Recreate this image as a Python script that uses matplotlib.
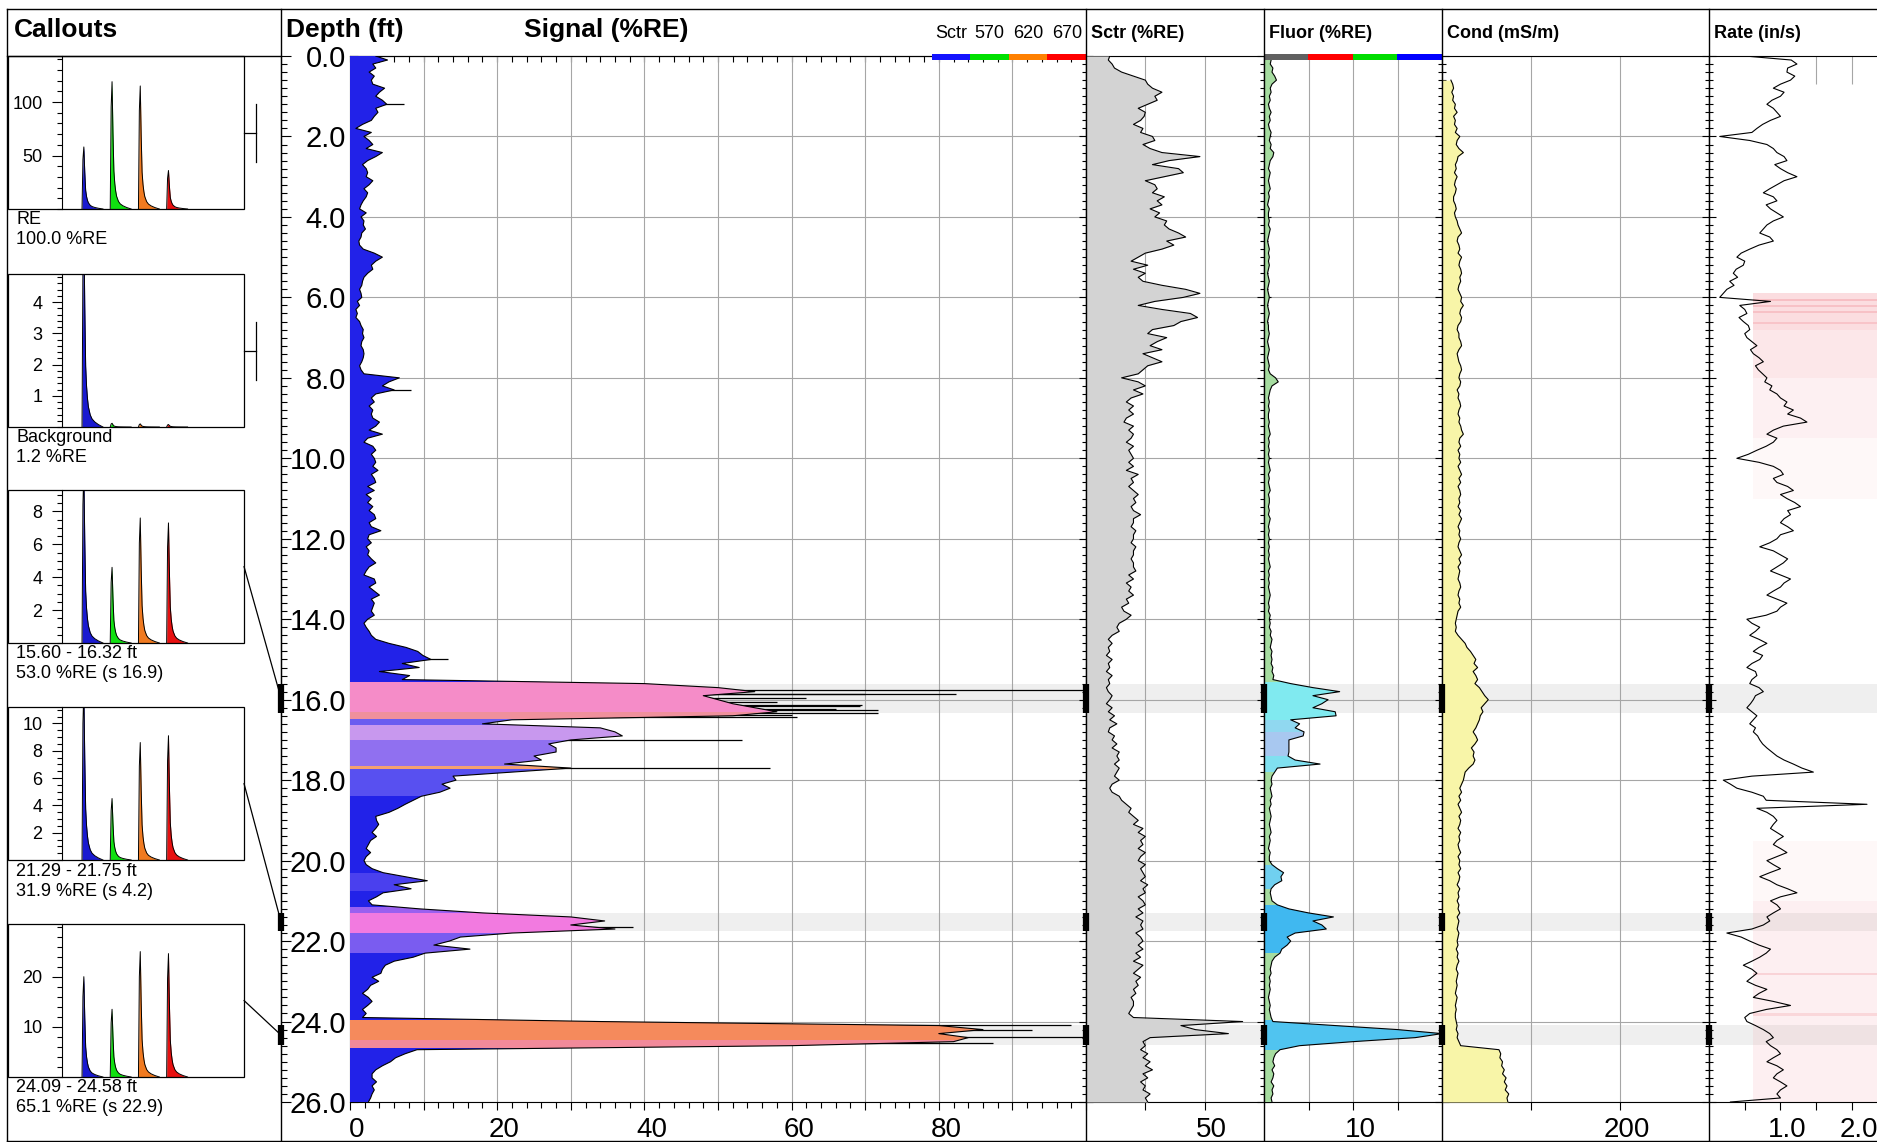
import numpy as np
import matplotlib
matplotlib.use('Agg')
import matplotlib.pyplot as plt
import matplotlib.transforms as mtransforms
from matplotlib.colors import to_rgb
from matplotlib.patches import Polygon, Rectangle, ConnectionPatch
from matplotlib.ticker import MultipleLocator, FuncFormatter

plt.rcParams['font.family'] = ['Liberation Sans', 'DejaVu Sans']

W, H = 1877, 1142

depth_step = 0.1

signal = [3.5,
    5.1, 3.1, 3.5, 2.6, 3.3, 2.9, 3.1, 4.7, 4.0, 3.5,
    4.4, 5.0, 3.5, 3.8, 3.3, 2.9, 1.7, 0.8, 2.9, 1.9,
    2.6, 3.1, 2.2, 4.4, 3.5, 2.4, 1.7, 2.2, 2.4, 2.2,
    3.1, 2.6, 1.9, 2.4, 2.2, 1.8, 1.5, 1.3, 2.2, 1.5,
    1.9, 1.8, 2.1, 1.6, 1.5, 1.2, 1.3, 1.8, 3.3, 4.4,
    3.5, 2.9, 3.1, 2.4, 1.9, 1.7, 1.6, 1.3, 1.5, 1.6,
    1.0, 1.3, 0.8, 1.0, 0.8, 1.3, 1.5, 1.8, 1.7, 1.9,
    1.6, 1.5, 1.8, 1.9, 1.8, 1.6, 1.3, 1.5, 1.9, 6.7,
    5.3, 4.4, 6.0, 3.5, 2.9, 3.3, 2.6, 3.1, 2.9, 3.1,
    4.0, 3.5, 2.6, 4.4, 2.4, 1.9, 3.1, 3.5, 2.9, 3.3,
    3.5, 3.1, 3.8, 2.9, 3.3, 3.5, 2.4, 3.3, 2.2, 2.9,
    2.4, 3.1, 2.6, 3.3, 3.5, 2.6, 2.9, 4.2, 2.6, 2.4,
    2.9, 2.2, 2.6, 2.4, 2.9, 3.5, 2.6, 2.2, 1.9, 3.3,
    3.5, 2.6, 3.3, 4.0, 2.9, 3.3, 3.1, 2.9, 3.3, 2.4,
    1.9, 2.2, 2.6, 2.9, 3.5, 5.3, 7.6, 9.2, 9.9, 11.0,
    7.1, 9.4, 4.0, 8.1, 7.1, 40, 50, 55, 48, 50,
    52, 55, 58, 52, 22, 18, 34, 36, 37, 30,
    27, 28, 28, 25, 26, 21, 30, 22, 14, 14.4,
    12.5, 13.6, 12.2, 9.7, 8.6, 7.5, 6.5, 5.3, 3.5, 3.6,
    3.9, 3.5, 3.0, 3.6, 2.8, 2.5, 2.2, 2.8, 2.2, 1.9,
    2.2, 3.0, 4.5, 7.5, 10.5, 6.0, 8.3, 4.5, 3.6, 2.5,
    3.0, 9.5, 18, 30, 34.6, 30, 36, 22, 15, 13.5,
    11.4, 16.3, 10.2, 8.6, 6.0, 4.8, 4.4, 4.2, 3.0, 3.9,
    2.8, 2.4, 1.7, 2.5, 3.0, 2.4, 1.7, 2.2, 1.7, 34,
    80, 86, 80, 84, 82, 60, 9.1, 7.5, 6.2, 5.5,
    4.4, 3.5, 3.0, 3.0, 3.6, 3.0, 3.3, 3.0, 2.8, 2.5]

# thin single-sample spikes on the signal curve (depth ft, %RE)
spike_depth = [1.2, 8.3, 15.0, 15.76, 15.85, 15.87, 15.95, 16.05, 16.12, 16.16, 16.22,
               16.26, 16.33, 16.38, 16.43, 17.01, 17.69, 21.65, 24.09, 24.21, 24.38, 24.54]
spike_value = [7.4, 8.3, 13.3, 99.6, 70, 82.4, 62, 58, 69.5, 69.3, 66,
               71.7, 71.7, 60, 60.7, 53.2, 57, 38.5, 98, 92.7, 100, 87.4]

sctr = [10,
    9.4, 11, 12, 15, 20, 25, 26, 28, 32, 29,
    30, 26, 22, 25, 24.5, 23, 20, 24, 23, 28,
    29, 24, 27, 32, 48, 35, 28, 39, 41, 33,
    25, 29, 30, 28, 33, 30, 32, 27, 31, 29,
    34, 33, 35, 39, 42, 34, 37, 32, 25, 22,
    19, 26, 20, 25, 22, 24, 32, 42, 48, 41,
    29, 22, 32, 44, 47, 40, 37, 28, 26, 34,
    30, 27, 32, 24, 28, 32, 26, 24, 22, 15,
    22, 25, 20, 24, 19, 17, 20, 18, 20, 17,
    16, 20, 18, 20, 19, 17, 20, 18, 19, 20,
    18, 20, 17, 22, 19, 20, 18, 20, 22, 20,
    21, 19, 20, 23, 20, 20, 19, 21, 20, 20,
    19, 21, 20, 20, 19, 20, 20, 21, 18, 20,
    17, 19, 18, 20, 17, 18, 15, 16, 19, 17,
    14, 13, 14, 11, 9.4, 11, 9.4, 10, 8.6, 11,
    9.4, 10, 8.6, 11, 9.4, 10, 8.6, 9.4, 11, 10,
    8.6, 11, 9.4, 12, 10, 13, 10, 9.4, 12, 11,
    13, 11, 14, 13, 14, 12, 14, 13, 12, 14,
    11, 10, 11, 14, 15, 17, 19, 18, 20, 22,
    20, 24, 22, 25, 23, 24, 22, 25, 23, 22,
    25, 23, 24, 25, 23, 26, 24, 25, 22, 24,
    25, 22, 24, 21, 24, 23, 24, 21, 23, 24,
    22, 24, 21, 23, 20, 24, 22, 20, 23, 21,
    22, 20, 21, 19, 20, 20, 19, 18, 20, 66,
    40, 46, 60, 27, 24, 25, 23, 26, 24, 27,
    25, 28, 24, 26, 23, 25, 24, 27, 25, 26]

fluor = [0.6,
    0.8, 0.7, 1.0, 0.9, 1.2, 1.4, 0.9, 0.7, 0.8, 0.6,
    0.7, 0.5, 0.6, 0.8, 0.6, 0.7, 0.5, 0.6, 0.8, 0.7,
    0.6, 0.8, 0.7, 1.1, 1.0, 0.7, 0.6, 0.5, 0.7, 0.6,
    0.5, 0.6, 0.7, 0.5, 0.6, 0.5, 0.4, 0.6, 0.5, 0.5,
    0.6, 0.5, 0.7, 0.6, 0.5, 0.4, 0.5, 0.6, 0.5, 0.6,
    0.5, 0.6, 0.5, 0.4, 0.5, 0.6, 0.5, 0.4, 0.5, 0.6,
    0.5, 0.4, 0.5, 0.6, 0.5, 0.4, 0.5, 0.5, 0.6, 0.5,
    0.4, 0.5, 0.6, 0.5, 0.4, 0.5, 0.6, 0.5, 0.7, 1.3,
    1.6, 0.9, 0.7, 0.6, 0.5, 0.6, 0.5, 0.6, 0.5, 0.5,
    0.6, 0.5, 0.6, 0.7, 0.5, 0.6, 0.5, 0.6, 0.5, 0.6,
    0.5, 0.6, 0.7, 0.5, 0.6, 0.5, 0.6, 0.7, 0.5, 0.6,
    0.6, 0.5, 0.6, 0.5, 0.7, 0.6, 0.5, 0.6, 0.5, 0.6,
    0.5, 0.6, 0.5, 0.6, 0.5, 0.6, 0.7, 0.5, 0.6, 0.5,
    0.6, 0.5, 0.6, 0.7, 0.6, 0.5, 0.6, 0.5, 0.7, 0.6,
    0.7, 0.6, 0.8, 0.7, 0.9, 0.8, 0.7, 0.9, 0.8, 0.9,
    0.8, 1.0, 0.9, 1.1, 1.0, 3.0, 5.5, 8.5, 5.5, 7.2,
    6.5, 5.5, 8.0, 8.1, 3.0, 4.0, 3.5, 4.5, 4.4, 2.8,
    2.8, 2.8, 2.8, 2.7, 3.5, 6.3, 1.5, 1.2, 0.9, 0.8,
    0.9, 0.7, 0.8, 0.9, 0.7, 0.8, 0.6, 0.7, 0.8, 0.7,
    0.6, 0.7, 0.8, 0.6, 0.7, 0.6, 0.5, 0.7, 0.6, 0.6,
    0.9, 1.5, 2.2, 1.9, 2.0, 1.2, 0.8, 0.7, 0.8, 0.9,
    1.5, 2.8, 5.0, 7.8, 5.5, 6.5, 7.0, 3.5, 2.6, 3.0,
    2.6, 2.0, 1.8, 1.2, 0.9, 0.8, 0.7, 0.8, 0.6, 0.7,
    0.6, 0.7, 0.6, 0.5, 0.6, 0.7, 0.6, 0.7, 0.8, 1.0,
    8, 15, 20, 17, 10, 4, 1.8, 1.3, 1.1, 1.0,
    1.2, 0.9, 1.1, 1.0, 0.8, 1.1, 0.9, 1.0, 0.8, 0.9]

nan = np.nan
cond = [nan,
    nan, nan, nan, nan, nan, 10, 12, 13, 11, 13,
    12, 15, 14, 17, 13, 15, 14, 17, 15, 20,
    17, 16, 19, 24, 18, 17, 15, 16, 14, 17,
    15, 14, 16, 15, 13, 13, 15, 16, 14, 15,
    17, 18, 20, 22, 18, 17, 19, 20, 18, 22,
    20, 19, 21, 22, 20, 21, 19, 18, 20, 22,
    21, 24, 21, 20, 22, 21, 18, 17, 19, 19,
    21, 22, 19, 17, 18, 19, 21, 22, 20, 19,
    21, 20, 17, 19, 18, 20, 21, 19, 18, 20,
    19, 21, 22, 24, 20, 19, 21, 18, 20, 19,
    21, 18, 20, 22, 19, 21, 18, 20, 21, 19,
    20, 18, 21, 19, 22, 20, 18, 20, 19, 21,
    19, 18, 20, 22, 19, 21, 18, 20, 19, 18,
    20, 21, 19, 18, 20, 19, 21, 18, 17, 16,
    15, 16, 15, 18, 22, 26, 28, 32, 35, 38,
    36, 40, 35, 38, 40, 37, 42, 45, 48, 52,
    48, 44, 46, 43, 42, 40, 38, 35, 38, 40,
    37, 33, 36, 35, 37, 35, 30, 26, 25, 24,
    22, 20, 22, 19, 21, 18, 20, 22, 19, 21,
    20, 18, 21, 19, 20, 18, 19, 21, 18, 20,
    19, 21, 18, 20, 19, 17, 20, 18, 19, 17,
    19, 18, 20, 17, 19, 18, 17, 19, 18, 17,
    18, 16, 18, 17, 19, 17, 16, 18, 17, 16,
    17, 16, 15, 17, 16, 15, 16, 15, 15, 16,
    17, 16, 18, 17, 19, 21, 64, 66, 65, 68,
    67, 70, 68, 72, 70, 73, 71, 75, 73, 74]

rate = [0.5,
    1.15, 1.23, 1.1, 1.09, 1.2, 1.14, 1.0, 0.9, 1.05, 1.0,
    0.88, 0.81, 0.9, 0.95, 1.0, 0.86, 0.75, 0.67, 0.6, 0.15,
    0.57, 0.81, 0.9, 0.95, 1.05, 1.09, 0.92, 1.0, 1.1, 1.23,
    1.05, 0.95, 0.85, 0.76, 0.9, 0.95, 0.8, 0.86, 0.95, 1.04,
    0.9, 0.81, 0.76, 0.71, 0.85, 0.9, 0.7, 0.57, 0.45, 0.39,
    0.5, 0.48, 0.38, 0.34, 0.4, 0.29, 0.35, 0.25, 0.2, 0.15,
    0.86, 0.43, 0.5, 0.53, 0.42, 0.48, 0.55, 0.57, 0.5, 0.53,
    0.6, 0.67, 0.58, 0.62, 0.7, 0.76, 0.65, 0.69, 0.75, 0.81,
    0.78, 0.88, 0.85, 0.95, 1.0, 1.09, 1.05, 1.18, 1.1, 1.28,
    1.37, 1.04, 0.9, 0.81, 0.95, 0.9, 0.8, 0.67, 0.55, 0.39,
    0.7, 0.9, 1.0, 1.04, 0.9, 0.95, 1.1, 1.18, 1.0, 1.09,
    1.2, 1.28, 1.1, 1.14, 1.05, 1.0, 1.1, 1.18, 1.0, 0.95,
    0.85, 0.71, 0.9, 1.0, 1.1, 1.04, 0.95, 0.86, 1.0, 1.14,
    1.05, 1.0, 0.9, 0.81, 0.95, 1.09, 1.0, 0.95, 0.8, 0.53,
    0.6, 0.71, 0.65, 0.57, 0.7, 0.81, 0.7, 0.62, 0.75, 0.71,
    0.6, 0.53, 0.65, 0.67, 0.6, 0.57, 0.7, 0.76, 0.65, 0.62,
    0.58, 0.53, 0.6, 0.67, 0.62, 0.57, 0.65, 0.62, 0.68, 0.71,
    0.75, 0.81, 0.88, 0.95, 1.05, 1.18, 1.3, 1.46, 0.6, 0.2,
    0.3, 0.39, 0.6, 0.76, 0.8, 2.21, 0.67, 0.81, 0.9, 0.95,
    0.9, 0.86, 0.95, 1.04, 0.95, 0.9, 1.0, 1.09, 0.95, 0.81,
    0.9, 1.0, 0.85, 0.71, 0.85, 0.95, 1.1, 1.23, 1.0, 0.86,
    0.95, 1.0, 0.9, 0.81, 0.85, 0.76, 0.6, 0.25, 0.45, 0.57,
    0.7, 0.86, 0.8, 0.71, 0.6, 0.48, 0.6, 0.67, 0.6, 0.53,
    0.65, 0.81, 0.7, 0.62, 0.9, 1.14, 0.8, 0.57, 0.5, 0.53,
    0.65, 0.76, 0.85, 0.9, 0.8, 0.86, 0.95, 1.0, 0.9, 0.81,
    0.95, 1.04, 0.95, 0.9, 1.0, 1.09, 1.0, 0.95, 1.0, 0.3]

# fill colour of the signal curve by depth interval (waveform colour mix)
sig_bands = [
    (0.0, 15.57, '#2222e8'), (15.57, 16.3, '#f58cc8'), (16.3, 16.47, '#f0909c'),
    (16.47, 16.62, '#6a5cf0'), (16.62, 17.0, '#c898ee'), (17.0, 17.65, '#9070f0'),
    (17.65, 17.72, '#f4a070'), (17.72, 18.4, '#5850f0'), (18.4, 20.3, '#2222e8'),
    (20.3, 20.75, '#4a40ee'), (20.75, 21.15, '#2222e8'), (21.15, 21.3, '#9a60f0'),
    (21.3, 21.8, '#f27ae0'), (21.8, 22.3, '#7a5cf0'), (22.3, 23.97, '#2222e8'),
    (23.97, 24.45, '#f58a5c'), (24.45, 24.65, '#f28a9a'), (24.65, 26.0, '#2222e8')]

fluor_bands = [
    (0.0, 15.55, '#a6dca0'), (15.55, 16.5, '#80eaf0'), (16.5, 16.8, '#90d8f0'),
    (16.8, 17.4, '#a8c8f0'), (17.4, 17.8, '#80e0f0'), (17.8, 20.1, '#a6dca0'),
    (20.1, 20.7, '#70d0f0'), (20.7, 21.1, '#a6dca0'), (21.1, 22.3, '#40b8f0'),
    (22.3, 23.95, '#a6dca0'), (23.95, 24.7, '#50c4f0'), (24.7, 26.0, '#a6dca0')]

# pale red shading in the rate track (top ft, bottom ft, opacity)
rate_shade = [(5.9, 6.8, 0.35), (6.8, 8.0, 0.25), (8.0, 9.5, 0.15), (9.5, 11.0, 0.07),
              (6.05, 6.1, 0.5), (6.2, 6.25, 0.45), (6.35, 6.4, 0.45), (6.6, 6.65, 0.4),
              (19.5, 21.0, 0.07), (21.0, 26.0, 0.16), (22.8, 22.85, 0.35), (23.8, 23.85, 0.3)]

# callouts
callout_title = ['RE', 'Background', '15.60 - 16.32 ft', '21.29 - 21.75 ft', '24.09 - 24.58 ft']
callout_value = ['100.0 %RE', '1.2 %RE', '53.0 %RE (s 16.9)', '31.9 %RE (s 4.2)', '65.1 %RE (s 22.9)']
callout_range = [None, None, (15.60, 16.32), (21.29, 21.75), (24.09, 24.58)]
callout_peaks = [[58, 119, 115, 36], [6.5, 0.12, 0.1, 0.08], [10.5, 4.6, 7.6, 7.3],
                 [12.5, 4.5, 8.6, 9.1], [20.0, 13.5, 25.0, 24.6]]
callout_ymax = [143, 4.9, 9.3, 11.2, 30.5]
callout_yticks = [[50, 100], [1, 2, 3, 4], [2, 4, 6, 8], [2, 4, 6, 8, 10], [10, 20]]
callout_yminor = [10, 0.2, 0.5, 0.5, 2]
peak_channel = [23, 54, 85, 116]
pulse_offset = [-1, 0, 1, 2, 3, 4, 5, 6, 8, 10, 13, 17, 22]
pulse_shape = [0, 0.8, 1.0, 0.6, 0.3, 0.2, 0.14, 0.1, 0.06, 0.04, 0.025, 0.012, 0.0]
wave_colors = ['#1a1ad0', '#10e010', '#f07a20', '#e81010']

# ---------------- layout ----------------
depth = np.round(np.arange(len(signal)) * depth_step, 2)
signal = np.array(signal, float)
sctr = np.array(sctr, float)
fluor = np.array(fluor, float)
cond = np.array(cond, float)
rate = np.array(rate, float)

fig = plt.figure(figsize=(W / 100, H / 100), dpi=100)
GRID = '#a6a6a6'
BAND = '#efefef'


def add_px_axes(x0, y0, x1, y1, **kw):
    return fig.add_axes([x0 / W, 1 - y1 / H, (x1 - x0) / W, (y1 - y0) / H], **kw)


def color_fill(ax, x, y, bands, xmax):
    verts = np.column_stack([np.r_[0, x, 0], np.r_[y[0], y, y[-1]]])
    patch = Polygon(verts, closed=True, facecolor='none', edgecolor='none')
    ax.add_patch(patch)
    rows = np.linspace(0, 26, 2600)
    col = np.ones((len(rows), 1, 3))
    for d0, d1, c in bands:
        col[(rows >= d0) & (rows < d1), 0] = to_rgb(c)
    im = ax.imshow(col, extent=[0, xmax, 26, 0], aspect='auto',
                   interpolation='nearest', zorder=3)
    im.set_clip_path(patch)


def shift_labels(ax, px=7):
    off = mtransforms.ScaledTranslation(px / 100, 0, fig.dpi_scale_trans)
    for lab in ax.get_xticklabels():
        lab.set_transform(lab.get_transform() + off)


depth_ax = add_px_axes(281, 56, 350, 1102)
sig_ax = add_px_axes(350, 56, 1086, 1102)
sctr_ax = add_px_axes(1086, 56, 1264, 1102)
fluor_ax = add_px_axes(1264, 56, 1442, 1102)
cond_ax = add_px_axes(1442, 56, 1709, 1102)
rate_ax = add_px_axes(1709, 56, 1877, 1102)

# depth column (ticks only)
depth_ax.set_ylim(26, 0)
depth_ax.patch.set_visible(False)
for s in ('top', 'right', 'bottom'):
    depth_ax.spines[s].set_visible(False)
depth_ax.spines['left'].set_linewidth(0.8)
depth_ax.set_xticks([])
depth_ax.yaxis.set_major_locator(MultipleLocator(2))
depth_ax.yaxis.set_minor_locator(MultipleLocator(0.2))
depth_ax.tick_params(axis='y', which='both', direction='in', labelleft=False, width=0.8)
depth_ax.tick_params(axis='y', which='major', length=7)
depth_ax.tick_params(axis='y', which='minor', length=4)

track_axes = [sig_ax, sctr_ax, fluor_ax, cond_ax, rate_ax]
for ax in track_axes:
    ax.set_ylim(26, 0)
    ax.set_axisbelow(True)
    for s in ax.spines.values():
        s.set_linewidth(0.8)
    ax.yaxis.set_major_locator(MultipleLocator(2))
    ax.yaxis.set_minor_locator(MultipleLocator(0.2))
    ax.tick_params(axis='x', which='major', direction='out', length=6, width=0.8,
                   labelsize=20, pad=5)
    ax.tick_params(axis='x', which='minor', direction='out', length=4, width=0.8)
    for rng in callout_range:
        if rng:
            ax.axhspan(rng[0], rng[1], color=BAND, lw=0, zorder=0.2)

# --- signal track
ax = sig_ax
color_fill(ax, signal, depth, sig_bands, 100)
ax.hlines(spike_depth, 0, spike_value, color='k', lw=0.9, zorder=2)
ax.plot(signal, depth, color='k', lw=0.8, zorder=4)
ax.set_xlim(0, 100)
ax.set_ylim(26, 0)
ax.xaxis.set_major_locator(MultipleLocator(10))
ax.xaxis.set_minor_locator(MultipleLocator(2))
ax.xaxis.set_major_formatter(FuncFormatter(lambda v, p: '%d' % v if v % 20 == 0 and v < 99 else ''))
ax.yaxis.set_major_formatter(FuncFormatter(lambda v, p: '%.1f' % v))
ax.grid(True, which='major', color=GRID, lw=0.8)
ax.tick_params(axis='y', which='major', direction='in', length=6, width=0.8, labelsize=21, pad=3)
ax.tick_params(axis='y', which='minor', direction='in', length=4, width=0.8)
top = ax.secondary_xaxis('top')
top.xaxis.set_major_locator(MultipleLocator(10))
top.xaxis.set_minor_locator(MultipleLocator(2))
top.tick_params(which='both', direction='in', length=4, width=0.8, labeltop=False)
top.spines['top'].set_linewidth(0.8)

# --- scatter track
ax = sctr_ax
ax.fill_betweenx(depth, 0, sctr, color='#d3d3d3', lw=0, zorder=3)
ax.plot(sctr, depth, color='k', lw=0.8, zorder=4)
ax.set_xlim(0, 75)
ax.set_xticks([25, 50], ['', '50'])

# --- fluorescence track
ax = fluor_ax
color_fill(ax, fluor, depth, fluor_bands, 20)
ax.plot(fluor, depth, color='k', lw=0.8, zorder=4)
ax.set_xlim(0, 20)
ax.set_xticks([5, 10, 15], ['', '10', ''])

# --- conductivity track
ax = cond_ax
ok = ~np.isnan(cond)
ax.fill_betweenx(depth, 0, np.nan_to_num(cond), where=ok, color='#f8f5a8', lw=0, zorder=3)
ax.plot(cond, depth, color='k', lw=0.8, zorder=4)
ax.set_xlim(0, 300)
ax.set_xticks([100, 200], ['', '200'])

# --- rate track
ax = rate_ax
rate_xmax = 2.35
for d0, d1, a in rate_shade:
    ax.axhspan(d0, d1, xmin=0.26, xmax=1, color='#f4a0a8', alpha=a, lw=0, zorder=0.3)
ax.vlines([1.5, 2.0], 0, 0.7, color=GRID, lw=0.8, zorder=0.5)
ax.plot(rate, depth, color='k', lw=0.8, zorder=4)
ax.set_xlim(0, rate_xmax)
ax.set_xticks([0.5, 1.0, 1.5, 2.0], ['', '1.0', '', '2.0'])
ax.spines['right'].set_visible(False)

for ax in (sctr_ax, fluor_ax, cond_ax):
    ax.grid(True, which='major', color=GRID, lw=0.8)
for ax in (sctr_ax, fluor_ax, cond_ax, rate_ax):
    ax.tick_params(axis='y', which='both', direction='inout', labelleft=False, width=0.8)
    ax.tick_params(axis='y', which='major', length=10)
    ax.tick_params(axis='y', which='minor', length=6)

for ax in track_axes:
    shift_labels(ax)

# callout interval markers on the track edges
for ax in (depth_ax, sctr_ax, fluor_ax, cond_ax, rate_ax):
    for rng in callout_range:
        if rng:
            ax.plot([0, 0], rng, color='k', lw=4.5, solid_capstyle='butt',
                    transform=ax.get_yaxis_transform(), clip_on=False, zorder=6)

# ---------------- callout waveforms ----------------
box_tops = [56, 274, 490, 707, 924]
box_h = 153
ov = fig.add_axes([0, 0, 1, 1], zorder=10)
ov.set_xlim(0, W)
ov.set_ylim(H, 0)
ov.axis('off')

for i in range(5):
    t = box_tops[i]
    ia = add_px_axes(62, t, 244, t + box_h)
    ia.patch.set_visible(False)
    for j in range(4):
        x = [peak_channel[j] + o for o in pulse_offset]
        y = [callout_peaks[i][j] * s for s in pulse_shape]
        ia.fill_between(x, 0, y, color=wave_colors[j], lw=0)
        ia.plot(x, y, color='k', lw=0.7)
    ia.set_xlim(0, 200)
    ia.set_ylim(0, callout_ymax[i])
    ia.set_xticks([])
    ia.set_yticks(callout_yticks[i])
    ia.yaxis.set_minor_locator(MultipleLocator(callout_yminor[i]))
    ia.tick_params(axis='y', which='major', length=7, width=0.8, labelsize=13, pad=7)
    ia.tick_params(axis='y', which='minor', length=3.5, width=0.8)
    for s in ('top', 'right', 'bottom'):
        ia.spines[s].set_visible(False)
    ia.spines['left'].set_linewidth(0.8)
    ov.add_patch(Rectangle((8, t), 236, box_h, fill=False, ec='k', lw=0.9))
    ov.text(16, t + box_h + 11, callout_title[i], fontsize=13, va='center')
    ov.text(16, t + box_h + 31, callout_value[i], fontsize=13, va='center')
    cy = t + box_h / 2
    if callout_range[i] is None:
        ov.plot([244, 256], [cy, cy], color='k', lw=0.9)
        ov.plot([256, 256], [cy - 29, cy + 29], color='k', lw=0.9)
    else:
        mid = sum(callout_range[i]) / 2
        con = ConnectionPatch(xyA=(1, 0.5), coordsA=ia.transAxes,
                              xyB=(0, mid), coordsB=depth_ax.get_yaxis_transform(),
                              color='k', lw=0.9)
        fig.add_artist(con)

# ---------------- frame and headers ----------------
k = dict(color='k', lw=1.0, clip_on=False)
ov.plot([7, W], [9, 9], **k)
ov.plot([7, W], [1141, 1141], **k)
ov.plot([7, 7], [9, 1141], **k)
ov.plot([7, 281], [56, 56], **k)
for xs in (281, 1086, 1264, 1442, 1709):
    ov.plot([xs, xs], [9, 1141], **k)

ov.text(14, 30, 'Callouts', fontsize=19, fontweight='bold', va='center')
ov.text(286, 30, 'Depth (ft)', fontsize=19, fontweight='bold', va='center')
ov.text(524, 30, 'Signal (%RE)', fontsize=19, fontweight='bold', va='center')
for name, x in zip(['Sctr (%RE)', 'Fluor (%RE)', 'Cond (mS/m)', 'Rate (in/s)'],
                   [1091, 1269, 1447, 1714]):
    ov.text(x, 34, name, fontsize=13, fontweight='bold', va='center')

sig_leg = ['Sctr', '570', '620', '670']
sig_leg_colors = ['#1414ff', '#00e000', '#ff8000', '#ff0000']
for j in range(4):
    x0 = 932 + j * 38.5
    ov.add_patch(Rectangle((x0, 53.5), 38.5, 6.5, color=sig_leg_colors[j], lw=0))
    ov.text(x0 + 19.25, 34, sig_leg[j], fontsize=13, ha='center', va='center')
fluor_leg_colors = ['#606060', '#ff0000', '#00dd00', '#0000ff']
for j in range(4):
    ov.add_patch(Rectangle((1264 + j * 44.5, 53.5), 44.5, 6.5, color=fluor_leg_colors[j], lw=0))

fig.savefig('out.png', dpi=100)
